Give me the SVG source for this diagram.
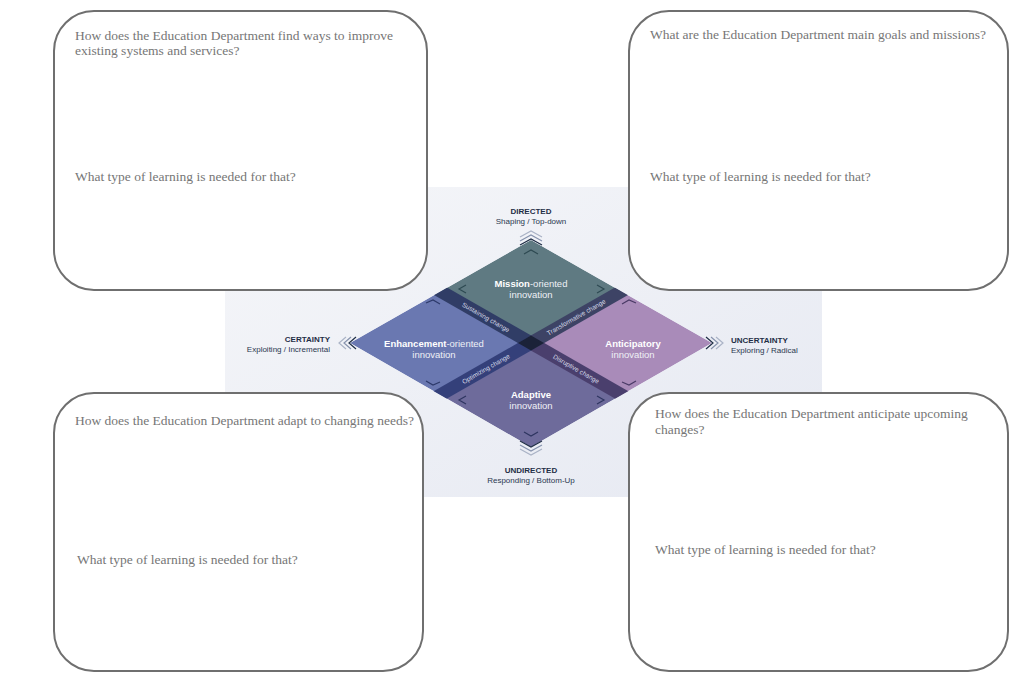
<svg xmlns="http://www.w3.org/2000/svg" width="1024" height="683" viewBox="0 0 1024 683">
<defs>
<linearGradient id="bg" x1="0" y1="0" x2="1" y2="1">
<stop offset="0" stop-color="#f5f6f9"/>
<stop offset="1" stop-color="#e6e9f2"/>
</linearGradient>
<clipPath id="dia"><polygon points="531,240 712,343 531,447 350,343"/></clipPath>
<style>
.box{fill:#ffffff;stroke:#6f6f6f;stroke-width:2}
.q{font-family:"Liberation Serif",serif;font-size:13.5px;fill:#767676}
.hd{font-family:"Liberation Sans",Arial,sans-serif;font-size:8px;font-weight:bold;fill:#1f2e46}
.sub{font-family:"Liberation Sans",Arial,sans-serif;font-size:8px;fill:#2a3850}
.lab{font-family:"Liberation Sans",Arial,sans-serif;font-size:9.5px;fill:#eef0f6;text-anchor:middle}
.b{font-weight:bold;fill:#ffffff}
.band{font-family:"Liberation Sans",Arial,sans-serif;font-size:6.5px;fill:#d6dae8;text-anchor:middle}
.chev{fill:none;stroke-width:1.2}
</style>
</defs>
<rect x="225" y="187" width="597" height="310" fill="url(#bg)"/>
<g id="diamond">
<g clip-path="url(#dia)">
<polygon points="531,240 621.5,291.5 531,343 440.5,291.5" fill="#5f7a82"/>
<polygon points="440.5,291.5 531,343 440.5,395 350,343" fill="#6a78b1"/>
<polygon points="621.5,291.5 712,343 621.5,395 531,343" fill="#a98bb9"/>
<polygon points="531,343 621.5,395 531,447 440.5,395" fill="#6e6b9b"/>
<g transform="translate(531,343) rotate(29.76)">
<rect x="-110" y="-6.5" width="110" height="13" fill="#303d66"/>
<rect x="0" y="-6.5" width="110" height="13" fill="#4a3f6d"/>
</g>
<g transform="translate(531,343) rotate(-29.76)">
<rect x="-110" y="-6.5" width="110" height="13" fill="#34407a"/>
<rect x="0" y="-6.5" width="110" height="13" fill="#3d4365"/>
</g>
<polygon points="531,335.5 544,343 531,350.5 518,343" fill="#1b2238"/>
</g>
<g transform="translate(531,343) rotate(29.76)">
<text class="band" x="-52" y="2.3">Sustaining change</text>
<text class="band" x="52" y="2.3">Disruptive change</text>
</g>
<g transform="translate(531,343) rotate(-29.76)">
<text class="band" x="-52" y="2.3">Optimizing change</text>
<text class="band" x="52" y="2.3">Transformative change</text>
</g>
</g>
<g id="inner-chevrons" class="chev">
<polyline points="466,285 459,289 466,293" stroke="#2e4a52"/>
<polyline points="597,285 604,289 597,293" stroke="#2e4a52"/>
<polyline points="524,254 531,250 538,254" stroke="#2e4a52"/>
<polyline points="426,303 433,300 440,304" stroke="#2d3a6a"/>
<polyline points="426,381 433,385 440,382" stroke="#2d3a6a"/>
<polyline points="622,304 629,300 636,303" stroke="#4a3a66"/>
<polyline points="622,382 629,385 636,381" stroke="#4a3a66"/>
<polyline points="466,396 459,400 466,404" stroke="#2e3560"/>
<polyline points="597,396 604,400 597,404" stroke="#2e3560"/>
<polyline points="524,432 531,436 538,432" stroke="#2e3560"/>
</g>
<g id="outer-chevrons" class="chev">
<polyline points="520,245 531,239 542,245" stroke="#1f2e46"/>
<polyline points="520,241 531,235 542,241" stroke="#8793ad"/>
<polyline points="520,237 531,231 542,237" stroke="#aab3c6"/>
<polyline points="520,441 531,447 542,441" stroke="#1f2e46"/>
<polyline points="520,445 531,451 542,445" stroke="#8793ad"/>
<polyline points="520,449 531,455 542,449" stroke="#aab3c6"/>
<polyline points="356,337 349,343 356,349" stroke="#1f2e46"/>
<polyline points="351,337 344,343 351,349" stroke="#8793ad"/>
<polyline points="346,337 339,343 346,349" stroke="#aab3c6"/>
<polyline points="706,337 713,343 706,349" stroke="#1f2e46"/>
<polyline points="711,337 718,343 711,349" stroke="#8793ad"/>
<polyline points="716,337 723,343 716,349" stroke="#aab3c6"/>
</g>
<g id="quadrant-labels">
<text class="lab" x="531" y="287"><tspan class="b">Mission</tspan>-oriented</text>
<text class="lab" x="531" y="298">innovation</text>
<text class="lab" x="434" y="347"><tspan class="b">Enhancement</tspan>-oriented</text>
<text class="lab" x="434" y="358">innovation</text>
<text class="lab" x="633" y="347"><tspan class="b">Anticipatory</tspan></text>
<text class="lab" x="633" y="358">innovation</text>
<text class="lab" x="531" y="398"><tspan class="b">Adaptive</tspan></text>
<text class="lab" x="531" y="409">innovation</text>
</g>
<g id="axis-labels">
<text class="hd" x="531" y="214" text-anchor="middle">DIRECTED</text>
<text class="sub" x="531" y="224" text-anchor="middle">Shaping / Top-down</text>
<text class="hd" x="330" y="342" text-anchor="end">CERTAINTY</text>
<text class="sub" x="330" y="352" text-anchor="end">Exploiting / Incremental</text>
<text class="hd" x="731" y="343">UNCERTAINTY</text>
<text class="sub" x="731" y="353">Exploring / Radical</text>
<text class="hd" x="531" y="473" text-anchor="middle">UNDIRECTED</text>
<text class="sub" x="531" y="483" text-anchor="middle">Responding / Bottom-Up</text>
</g>
<g id="box-improve">
<rect class="box" x="54" y="11" width="373" height="279" rx="40" ry="40"/>
<text class="q" x="75" y="40">How does the Education Department find ways to improve</text>
<text class="q" x="75" y="55">existing systems and services?</text>
<text class="q" x="75" y="181">What type of learning is needed for that?</text>
</g>
<g id="box-goals">
<rect class="box" x="629" y="11" width="379" height="279" rx="40" ry="40"/>
<text class="q" x="650" y="39">What are the Education Department main goals and missions?</text>
<text class="q" x="650" y="181">What type of learning is needed for that?</text>
</g>
<g id="box-adapt">
<rect class="box" x="54" y="393" width="369" height="278" rx="40" ry="40"/>
<text class="q" x="75" y="425">How does the Education Department adapt to changing needs?</text>
<text class="q" x="77" y="564">What type of learning is needed for that?</text>
</g>
<g id="box-anticipate">
<rect class="box" x="629" y="393" width="379" height="278" rx="40" ry="40"/>
<text class="q" x="655" y="418">How does the Education Department anticipate upcoming</text>
<text class="q" x="655" y="434">changes?</text>
<text class="q" x="655" y="554">What type of learning is needed for that?</text>
</g>
</svg>
